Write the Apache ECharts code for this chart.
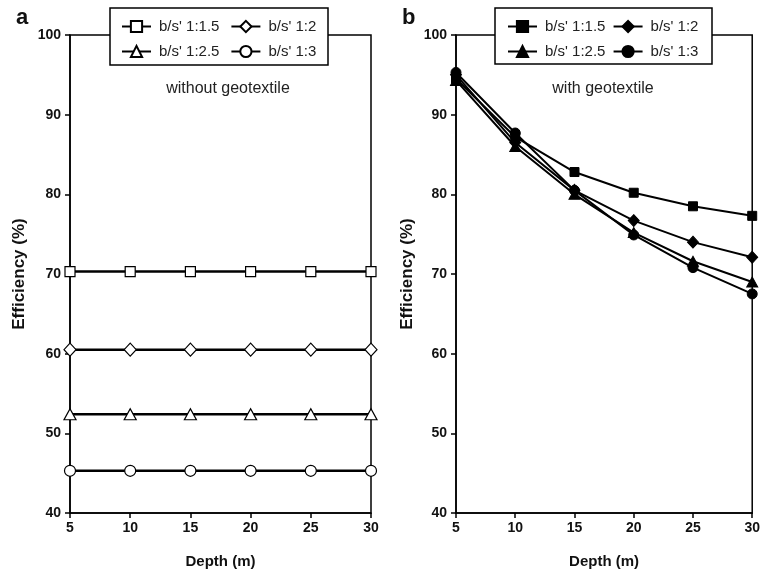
<!DOCTYPE html>
<html><head><meta charset="utf-8">
<script src="https://cdn.jsdelivr.net/npm/echarts@6/dist/echarts.min.js"></script>
<style>html,body{margin:0;padding:0;background:#fff}#c{width:763px;height:575px}</style>
</head><body><div id="c"></div>
<script>
const depth = [5, 10, 15, 20, 25, 30];
const seriesNames = ["b/s' 1:1.5", "b/s' 1:2", "b/s' 1:2.5", "b/s' 1:3"];
const withoutGeo15 = [70.3, 70.3, 70.3, 70.3, 70.3, 70.3];
const withoutGeo2 = [60.5, 60.5, 60.5, 60.5, 60.5, 60.5];
const withoutGeo25 = [52.4, 52.4, 52.4, 52.4, 52.4, 52.4];
const withoutGeo3 = [45.3, 45.3, 45.3, 45.3, 45.3, 45.3];
const withGeo15 = [94.5, 87.2, 82.8, 80.2, 78.5, 77.3];
const withGeo2 = [95.0, 86.5, 80.5, 76.7, 74.0, 72.1];
const withGeo25 = [94.3, 86.0, 80.0, 75.2, 71.6, 69.0];
const withGeo3 = [95.3, 87.7, 80.5, 74.9, 70.8, 67.5];
const panelTitles = ['without geotextile', 'with geotextile'];
const panelLetters = ['a', 'b'];

const FONT = 'Liberation Sans, Arial, sans-serif';
const symbols = ['rect', 'diamond', 'triangle', 'circle'];
const symSizes = [[10,10],[12,13],[12,11],[11,11]];

function pair(xs, ys){ return xs.map((x,i)=>[x, ys[i]]); }

const leftData = [withoutGeo15, withoutGeo2, withoutGeo25, withoutGeo3];
const rightData = [withGeo15, withGeo2, withGeo25, withGeo3];

const series = [];
leftData.forEach((d,i)=>{
  series.push({
    name: seriesNames[i], type:'line', xAxisIndex:0, yAxisIndex:0,
    data: pair(depth, d), symbol: symbols[i], symbolSize: symSizes[i],
    showAllSymbol:true, clip:false,
    lineStyle:{color:'#000', width:2.5},
    itemStyle:{color:'#fff', borderColor:'#000', borderWidth:1.2},
    emphasis:{disabled:true}, z: 2
  });
});
rightData.forEach((d,i)=>{
  series.push({
    name: seriesNames[i] + ' ', type:'line', xAxisIndex:1, yAxisIndex:1,
    data: pair(depth, d), symbol: symbols[i], symbolSize: symSizes[i].map(v=>v-1),
    showAllSymbol:true, clip:false,
    lineStyle:{color:'#000', width:2},
    itemStyle:{color:'#000', borderColor:'#000', borderWidth:1},
    emphasis:{disabled:true}, z: 2
  });
});

const grids = [
  {left:70, right:392, top:35, bottom:62, show:true, borderColor:'#000', borderWidth:1.5},
  {left:456, right:6, top:35, bottom:62, show:true, borderColor:'#000', borderWidth:1.5}
];

function xAxis(g){
  return {type:'value', gridIndex:g, min:5, max:30, interval:5,
    name:'Depth (m)', nameLocation:'middle', nameGap:41,
    nameTextStyle:{fontFamily:FONT, fontWeight:'bold', fontSize:15, color:'#111'},
    axisLine:{lineStyle:{color:'#000', width:1.5}},
    axisTick:{inside:false, length:5, lineStyle:{color:'#000', width:1.5}},
    axisLabel:{fontFamily:FONT, fontWeight:'bold', fontSize:14, color:'#111', margin:8},
    splitLine:{show:false}};
}
function yAxis(g){
  return {type:'value', gridIndex:g, min:40, max:100, interval:10,
    name:'Efficiency (%)', nameLocation:'middle', nameGap:g===0?42:40,
    nameTextStyle:{fontFamily:FONT, fontWeight:'bold', fontSize:17, color:'#111'},
    axisLine:{show:true, lineStyle:{color:'#000', width:1.5}},
    axisTick:{show:true, inside:false, length:5, lineStyle:{color:'#000', width:1.5}},
    axisLabel:{fontFamily:FONT, fontWeight:'bold', fontSize:14, color:'#111', margin:9},
    splitLine:{show:false}};
}

function legendRow(names, left, top, gap){
  return {data:names.map(n=>({name:n})), left:left, top:top, orient:'horizontal',
    itemWidth:29, itemHeight:14, itemGap:gap, padding:0,
    selectedMode:false, z:10,
    textStyle:{fontFamily:FONT, fontSize:15, color:'#222', padding:[0,0,0,3]}};
}

const legends = [
  legendRow([seriesNames[0], seriesNames[1]], 121, 19, 11),
  legendRow([seriesNames[2], seriesNames[3]], 121, 44, 11),
  legendRow([seriesNames[0]+' ', seriesNames[1]+' '], 507, 19, 3),
  legendRow([seriesNames[2]+' ', seriesNames[3]+' '], 507, 44, 3)
];

const option = {
  animation:false,
  backgroundColor:'#fff',
  grid: grids,
  xAxis:[xAxis(0), xAxis(1)],
  yAxis:[yAxis(0), yAxis(1)],
  legend: legends,
  title:[
    {text:panelLetters[0], left:11, top:2, textStyle:{fontFamily:FONT, fontWeight:'bold', fontSize:22, color:'#111'}},
    {text:panelLetters[1], left:397, top:2, textStyle:{fontFamily:FONT, fontWeight:'bold', fontSize:22, color:'#111'}},
    {text:panelTitles[0], left:223, top:76, textAlign:'center', textStyle:{fontFamily:FONT, fontWeight:'normal', fontSize:16, color:'#222'}},
    {text:panelTitles[1], left:598, top:76, textAlign:'center', textStyle:{fontFamily:FONT, fontWeight:'normal', fontSize:16, color:'#222'}}
  ],
  graphic:[
    {type:'rect', shape:{x:110, y:8, width:218, height:57}, style:{fill:'#fff', stroke:'#000', lineWidth:1.5}, z:5},
    {type:'rect', shape:{x:495, y:8, width:217, height:56}, style:{fill:'#fff', stroke:'#000', lineWidth:1.5}, z:5}
  ],
  series: series
};
const chart = echarts.init(document.getElementById('c'), null, {renderer:'canvas'});
chart.setOption(option);
</script></body></html>
